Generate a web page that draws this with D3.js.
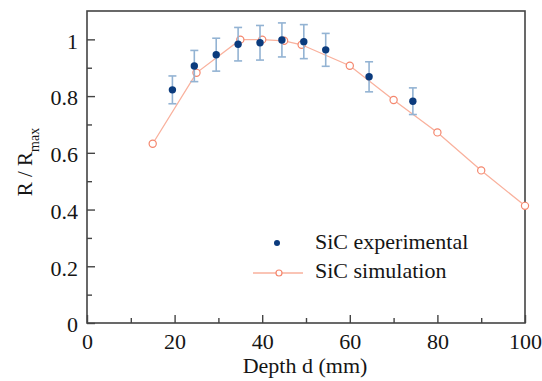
<html>
  <head>
    <meta charset="utf-8" />
    <script src="https://cdnjs.cloudflare.com/ajax/libs/d3/7.6.1/d3.min.js"></script>
    <style>
      body { margin: 0; background: #fff; }
      svg { font-family: "Liberation Serif", "DejaVu Serif", serif; }
    </style>
  </head>
  <body>
    <svg width="542" height="381"></svg>
  </body>
  <script>
    // experimental points
    const expDepth = [19.5, 24.5, 29.5, 34.5, 39.5, 44.5, 49.5, 54.5, 64.4, 74.4];
    const expR = [0.822, 0.906, 0.946, 0.983, 0.988, 0.998, 0.992, 0.963, 0.868, 0.782];
    const expErr = [0.049, 0.055, 0.058, 0.059, 0.061, 0.06, 0.06, 0.058, 0.053, 0.047];

    // simulation
    const simDepth = [15, 25, 35, 40, 45, 49, 60, 70, 80, 90, 100];
    const simR = [0.632, 0.882, 0.999, 0.999, 0.995, 0.981, 0.907, 0.786, 0.672, 0.538, 0.413];

    const xTicks = [0, 20, 40, 60, 80, 100];
    const yTicks = [0, 0.2, 0.4, 0.6, 0.8, 1];

    const svg = d3.select("svg");
    const x = d3.scaleLinear().domain([0, 100]).range([87, 525]);
    const y = d3.scaleLinear().domain([0, 1.1]).range([323, 11]);

    // frame
    svg.append("rect")
      .attr("x", 87).attr("y", 11)
      .attr("width", 438).attr("height", 312)
      .attr("fill", "none").attr("stroke", "#444").attr("stroke-width", 1.6);

    const xAxis = d3.axisBottom(x).tickValues(xTicks).tickSize(-8).tickPadding(10)
      .tickFormat(d3.format("d"));
    const gx = svg.append("g").attr("transform", "translate(0,323)").call(xAxis);
    const xMinor = d3.axisBottom(x).tickValues(d3.range(10, 100, 20)).tickSize(-5).tickFormat("");
    svg.append("g").attr("transform", "translate(0,323)").call(xMinor);

    const yAxis = d3.axisLeft(y).tickValues(yTicks).tickSize(-8).tickPadding(9)
      .tickFormat((d) => (d === 0 || d === 1 ? d3.format("d")(d) : d3.format(".1f")(d)));
    const gy = svg.append("g").attr("transform", "translate(87,0)").call(yAxis);
    const yMinor = d3.axisLeft(y).tickValues(d3.range(0.1, 1.1, 0.2)).tickSize(-5).tickFormat("");
    svg.append("g").attr("transform", "translate(87,0)").call(yMinor);

    svg.selectAll(".domain").remove();
    svg.selectAll(".tick line").attr("stroke", "#444").attr("stroke-width", 1.4);
    svg.selectAll(".tick text").attr("font-size", 22).attr("fill", "#151515")
      .attr("font-family", "Liberation Serif, serif");
    gy.selectAll(".tick text").attr("dy", "0.4em");

    // simulation line
    const sim = simDepth.map((d, i) => ({ d, r: simR[i] }));
    svg.append("path")
      .datum(sim)
      .attr("d", d3.line().x((p) => x(p.d)).y((p) => y(p.r)))
      .attr("fill", "none")
      .attr("stroke", "#f9b19d")
      .attr("stroke-width", 1.3);
    svg.selectAll(".sim")
      .data(sim)
      .enter()
      .append("circle")
      .attr("cx", (p) => x(p.d))
      .attr("cy", (p) => y(p.r))
      .attr("r", 3.6)
      .attr("fill", "#fff")
      .attr("stroke", "#f4876e")
      .attr("stroke-width", 1.2);

    // experimental with error bars
    const exp = expDepth.map((d, i) => ({ d, r: expR[i], e: expErr[i] }));
    const eb = svg.selectAll(".eb").data(exp).enter().append("g")
      .attr("stroke", "#93b3d3").attr("stroke-width", 1.6);
    eb.append("line")
      .attr("x1", (p) => x(p.d)).attr("x2", (p) => x(p.d))
      .attr("y1", (p) => y(p.r - p.e)).attr("y2", (p) => y(p.r + p.e));
    eb.append("line")
      .attr("x1", (p) => x(p.d) - 4).attr("x2", (p) => x(p.d) + 4)
      .attr("y1", (p) => y(p.r + p.e)).attr("y2", (p) => y(p.r + p.e));
    eb.append("line")
      .attr("x1", (p) => x(p.d) - 4).attr("x2", (p) => x(p.d) + 4)
      .attr("y1", (p) => y(p.r - p.e)).attr("y2", (p) => y(p.r - p.e));
    svg.selectAll(".exp")
      .data(exp)
      .enter()
      .append("circle")
      .attr("cx", (p) => x(p.d))
      .attr("cy", (p) => y(p.r))
      .attr("r", 3.7)
      .attr("fill", "#0b3b7d");

    // legend
    const lg = svg.append("g").attr("font-size", 22).attr("fill", "#151515");
    lg.append("circle").attr("cx", 277).attr("cy", 243).attr("r", 3).attr("fill", "#0b3b7d");
    lg.append("text").attr("x", 315).attr("y", 249).text("SiC experimental");
    lg.append("line").attr("x1", 253).attr("x2", 303).attr("y1", 273).attr("y2", 273)
      .attr("stroke", "#f9b19d").attr("stroke-width", 1.3);
    lg.append("circle").attr("cx", 279).attr("cy", 273).attr("r", 3)
      .attr("fill", "#fff").attr("stroke", "#f4876e").attr("stroke-width", 1.2);
    lg.append("text").attr("x", 315).attr("y", 278).text("SiC simulation");

    // axis titles
    svg.append("text")
      .attr("x", 305).attr("y", 373)
      .attr("text-anchor", "middle")
      .attr("font-size", 22).attr("fill", "#151515")
      .text("Depth d (mm)");
    const yl = svg.append("text")
      .attr("transform", "translate(32,162) rotate(-90)")
      .attr("text-anchor", "middle")
      .attr("font-size", 21).attr("fill", "#151515");
    yl.append("tspan").text("R / R");
    yl.append("tspan").attr("font-size", 14).attr("dy", 7).text("max");
  </script>
</html>
